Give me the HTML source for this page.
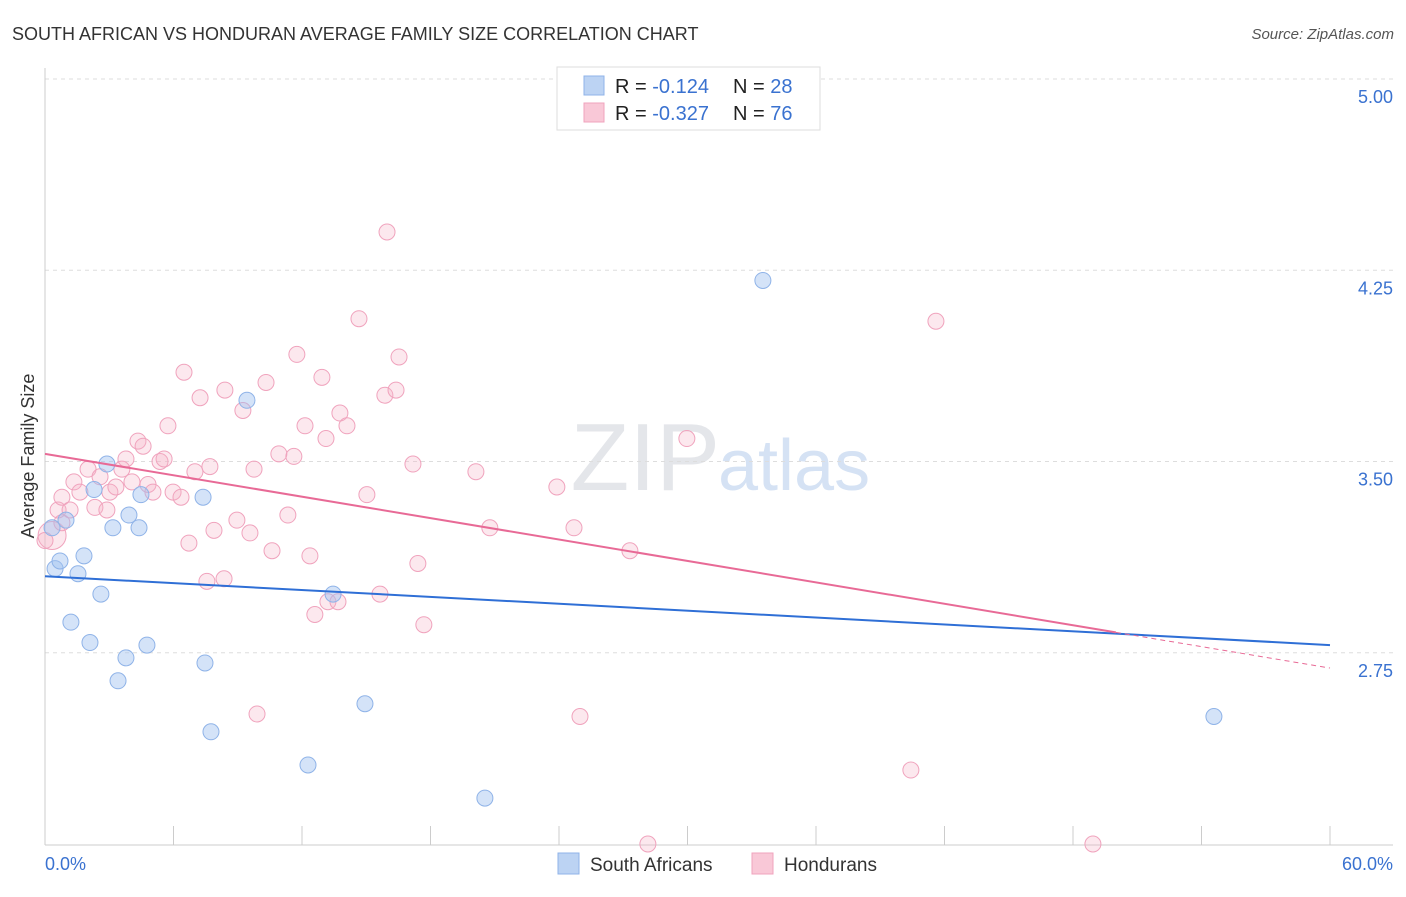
<!DOCTYPE html>
<html><head><meta charset="utf-8"><style>
body{margin:0;background:#fff;font-family:"Liberation Sans",sans-serif;}
svg text{font-family:"Liberation Sans",sans-serif;}
</style></head><body>
<svg id="chart" width="1406" height="892">
<text x="12" y="40" font-size="18" fill="#333">SOUTH AFRICAN VS HONDURAN AVERAGE FAMILY SIZE CORRELATION CHART</text>
<text x="1394" y="39" font-size="15" fill="#555" font-style="italic" text-anchor="end">Source: ZipAtlas.com</text>
<text x="720" y="490" font-size="96" fill="#e4e6ea" text-anchor="end" font-family="Liberation Serif">ZIP</text>
<text x="718" y="490" font-size="72" fill="#d5e2f4">atlas</text>
<g id="grid"></g>
<g id="axes"></g>
<g id="marks"></g>
<text transform="translate(34,456) rotate(-90)" font-size="18" fill="#333" text-anchor="middle">Average Family Size</text>
<text x="45" y="870" font-size="18" fill="#3a72d0">0.0%</text>
<text x="1393" y="870" font-size="18" fill="#3a72d0" text-anchor="end">60.0%</text>
<g>
<rect x="557" y="67" width="263" height="63" fill="#fff" stroke="#ddd"/>
<rect x="584" y="76" width="20" height="19" fill="#bcd3f3" stroke="#8fb3e8"/>
<rect x="584" y="103" width="20" height="19" fill="#f9c8d7" stroke="#f0a3bd"/>
<text x="615" y="93" font-size="20" fill="#222">R = <tspan fill="#3a72d0"> -0.124</tspan><tspan x="733">N = </tspan><tspan fill="#3a72d0">28</tspan></text>
<text x="615" y="120" font-size="20" fill="#222">R = <tspan fill="#3a72d0">-0.327</tspan><tspan x="733">N = </tspan><tspan fill="#3a72d0">76</tspan></text>
</g>
<g>
<rect x="558" y="853" width="21" height="21" fill="#bcd3f3" stroke="#8fb3e8"/>
<text x="590" y="871" font-size="19" fill="#333">South Africans</text>
<rect x="752" y="853" width="21" height="21" fill="#f9c8d7" stroke="#f0a3bd"/>
<text x="784" y="871" font-size="19" fill="#333">Hondurans</text>
</g>
</svg>
<script>
const yTicks=[5.00,4.25,3.50,2.75];
const yTickLabels=["5.00","4.25","3.50","2.75"];
const xTicks=[0,6,12,18,24,30,36,42,48,54,60];
const blueX=[0.47,0.70,0.98,0.33,1.54,1.82,1.21,2.10,2.61,2.29,2.89,3.17,3.92,4.48,4.39,3.78,3.41,4.76,7.38,7.47,7.75,9.43,12.28,13.45,14.94,20.54,33.52,54.58];
const blueY=[3.08,3.11,3.27,3.24,3.06,3.13,2.87,2.79,2.98,3.39,3.49,3.24,3.29,3.37,3.24,2.73,2.64,2.78,3.36,2.71,2.44,3.74,2.31,2.98,2.55,2.18,4.21,2.50];
const pinkX=[0.33,0.61,0.79,1.17,1.35,1.63,2.01,2.33,2.57,2.89,3.03,3.31,3.59,3.78,4.06,4.34,4.58,4.81,5.04,5.37,5.56,5.74,5.98,6.35,6.49,6.72,7.00,7.24,7.56,7.70,7.89,8.36,8.40,8.96,9.24,9.57,9.76,9.90,10.32,10.60,10.92,11.34,11.62,11.76,12.14,12.37,12.60,12.93,13.12,13.21,13.68,13.77,14.10,15.03,14.66,15.64,15.87,15.97,16.39,16.53,17.18,17.41,17.69,20.12,20.77,23.90,24.70,24.98,27.31,28.15,29.97,40.43,41.60,48.93,0,0.79];
const pinkY=[3.21,3.31,3.36,3.31,3.42,3.38,3.47,3.32,3.44,3.31,3.38,3.40,3.47,3.51,3.42,3.58,3.56,3.41,3.38,3.50,3.51,3.64,3.38,3.36,3.85,3.18,3.46,3.75,3.03,3.48,3.23,3.04,3.78,3.27,3.70,3.22,3.47,2.51,3.81,3.15,3.53,3.29,3.52,3.92,3.64,3.13,2.90,3.83,3.59,2.95,2.95,3.69,3.64,3.37,4.06,2.98,3.76,4.40,3.78,3.91,3.49,3.10,2.86,3.46,3.24,3.40,3.24,2.50,3.15,2.00,3.59,2.29,4.05,2.00,3.19,3.26];
const blueTrend=[3.05,2.78];
const pinkTrend=[3.53,2.69];
const pinkSolidEnd=50;
const NS="http://www.w3.org/2000/svg";
const xs=v=>45+v*(1330-45)/60;
const ys=v=>79+(5-v)*255;
function mk(tag,attrs,parent){const e=document.createElementNS(NS,tag);for(const k in attrs)e.setAttribute(k,attrs[k]);parent.appendChild(e);return e;}
const grid=document.getElementById('grid'),axes=document.getElementById('axes'),marks=document.getElementById('marks');
yTicks.forEach((t,i)=>{
 const l=mk('line',{x1:45,x2:1393,y1:ys(t),y2:ys(t),stroke:'#ddd','stroke-dasharray':'4,4'},grid);
 
 
 const tx=mk('text',{x:1393,y:ys(t)+24,'font-size':18,fill:'#3a72d0','text-anchor':'end'},grid);
 tx.textContent=yTickLabels[i];
 
 
});
const la=mk('line',{x1:45,x2:45,y1:68,y2:845,stroke:'#ccc'},axes);


const ba=mk('line',{x1:45,x2:1393,y1:845,y2:845,stroke:'#ccc'},axes);


xTicks.forEach(t=>{
 const l=mk('line',{x1:xs(t),x2:xs(t),y1:826,y2:845,stroke:'#ccc'},axes);
 
 
});
pinkX.forEach((x,i)=>{
 const c=mk('circle',{cx:xs(x),cy:ys(pinkY[i]),r:i===0?14:8,fill:'rgba(246,178,200,0.3)',stroke:'#f0a3bd','stroke-width':1},marks);
 
 
});
blueX.forEach((x,i)=>{
 const c=mk('circle',{cx:xs(x),cy:ys(blueY[i]),r:8,fill:'rgba(160,192,240,0.45)',stroke:'#8fb3e8','stroke-width':1},marks);
 
 
});
const bt=mk('line',{x1:xs(0),y1:ys(blueTrend[0]),x2:xs(60),y2:ys(blueTrend[1]),stroke:'#2f6fd6','stroke-width':2},marks);


const pm=pinkTrend[0]+(pinkTrend[1]-pinkTrend[0])*pinkSolidEnd/60;
const pt=mk('line',{x1:xs(0),y1:ys(pinkTrend[0]),x2:xs(pinkSolidEnd),y2:ys(pm),stroke:'#e86a96','stroke-width':2},marks);


const pd=mk('line',{x1:xs(pinkSolidEnd),y1:ys(pm),x2:xs(60),y2:ys(pinkTrend[1]),stroke:'#e86a96','stroke-width':1,'stroke-dasharray':'5,4'},marks);


</script>
</body></html>
